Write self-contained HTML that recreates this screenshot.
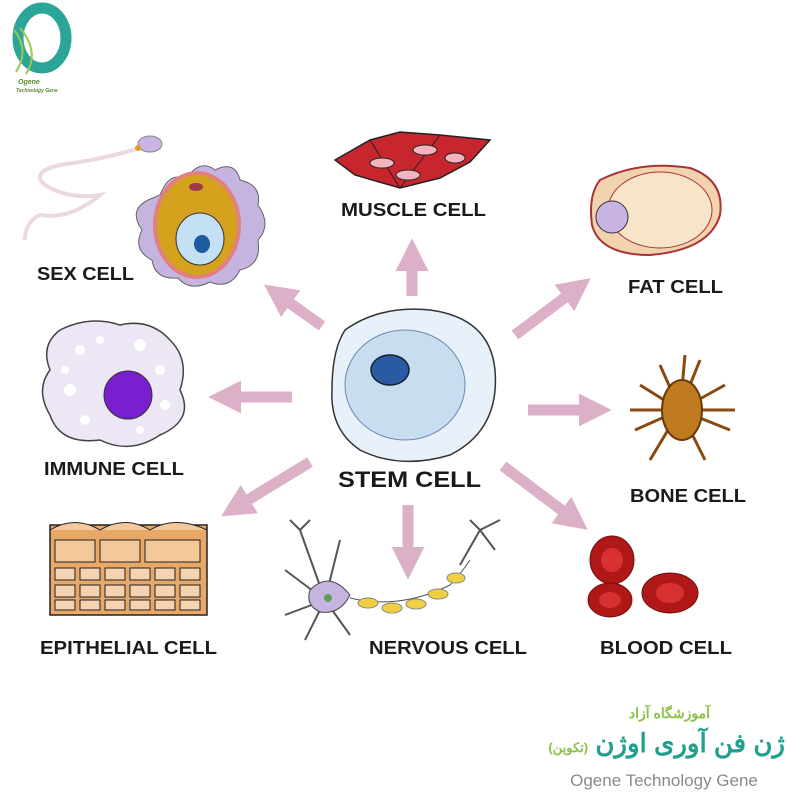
<!DOCTYPE html>
<html><head><meta charset="utf-8"><style>
html,body{margin:0;padding:0;background:#fff;}
svg{display:block}
text{font-family:"Liberation Sans",Arial,sans-serif;font-weight:bold;fill:#1a1a1a}
</style></head><body>
<svg width="800" height="800" viewBox="0 0 800 800" xmlns="http://www.w3.org/2000/svg">
<defs>
<marker id="ah" markerWidth="3" markerHeight="3" refX="1.2" refY="1.5" orient="auto">
<path d="M0,0 L3,1.5 L0,3 Z" fill="#dcb1c8"/></marker>
</defs>
<ellipse cx="42" cy="38" rx="24" ry="30" fill="none" stroke="#2aa597" stroke-width="11"/>
<path d="M14,30 Q30,50 16,72 M20,28 Q40,52 26,74" stroke="#9bc850" stroke-width="2" fill="none"/>
<text x="18" y="84" style="font-size:7px;font-style:italic;fill:#5a8a30">Ogene</text>
<text x="16" y="92" style="font-size:5px;font-style:italic;fill:#5a8a30">Technology Gene</text>

<g stroke="#dcb1c8" stroke-width="11" fill="none" marker-end="url(#ah)">
<line x1="412" y1="296" x2="412" y2="258"/>
<line x1="322" y1="326" x2="280" y2="296"/>
<line x1="292" y1="397" x2="228" y2="397"/>
<line x1="310" y1="462" x2="238" y2="506"/>
<line x1="408" y1="505" x2="408" y2="560"/>
<line x1="503" y1="466" x2="572" y2="518"/>
<line x1="528" y1="410" x2="592" y2="410"/>
<line x1="515" y1="335" x2="575" y2="290"/>
</g>

<path d="M345,330 Q380,305 430,310 Q490,318 495,370 Q500,430 450,455 Q400,470 360,450 Q330,430 332,390 Q332,350 345,330Z" fill="#e8f0fa" stroke="#333" stroke-width="1.5"/>
<ellipse cx="405" cy="385" rx="60" ry="55" fill="#c9ddf1" stroke="#6a8ab0" stroke-width="1"/>
<ellipse cx="390" cy="370" rx="19" ry="15" fill="#2a5aa2" stroke="#123" stroke-width="1.5"/>
<text x="338" y="487" textLength="143" lengthAdjust="spacingAndGlyphs" style="font-size:22px">STEM CELL</text>

<path d="M335,160 L370,140 L400,132 L440,135 L490,140 L470,162 L440,178 L400,188 L355,175 Z" fill="#c8262e" stroke="#222" stroke-width="1.5"/>
<path d="M370,140 L400,188 M440,135 L400,188" stroke="#222" stroke-width="1" fill="none"/>
<ellipse cx="382" cy="163" rx="12" ry="5" fill="#f2b5be" stroke="#222"/>
<ellipse cx="425" cy="150" rx="12" ry="5" fill="#f2b5be" stroke="#222"/>
<ellipse cx="408" cy="175" rx="12" ry="5" fill="#f2b5be" stroke="#222"/>
<ellipse cx="455" cy="158" rx="10" ry="5" fill="#f2b5be" stroke="#222"/>
<text x="341" y="216" textLength="145" lengthAdjust="spacingAndGlyphs" style="font-size:18px">MUSCLE CELL</text>

<path d="M160,195 Q170,170 185,180 Q200,158 215,170 Q235,160 240,180 Q262,185 258,205 Q272,225 258,240 Q262,265 240,270 Q230,290 210,282 Q190,292 178,278 Q155,280 152,260 Q132,250 142,230 Q128,210 148,200 Z" fill="#c6b4e0" stroke="#666" stroke-width="1"/>
<ellipse cx="197" cy="225" rx="42" ry="52" fill="#d4a21c" stroke="#e08080" stroke-width="4"/>
<ellipse cx="200" cy="239" rx="24" ry="26" fill="#c4e0f4" stroke="#333"/>
<ellipse cx="202" cy="244" rx="8" ry="9" fill="#1e5aa0"/>
<ellipse cx="196" cy="187" rx="7" ry="4" fill="#9a3a4a"/>
<path d="M140,148 Q100,160 60,165 Q30,172 45,185 Q70,200 100,195 Q70,220 40,215 Q25,222 25,240" stroke="#ecd8df" stroke-width="4" fill="none"/>
<ellipse cx="150" cy="144" rx="12" ry="8" fill="#c9b4e2" stroke="#888"/>
<circle cx="138" cy="148" r="3" fill="#e0a020"/>
<text x="37" y="280" textLength="97" lengthAdjust="spacingAndGlyphs" style="font-size:18px">SEX CELL</text>

<path d="M600,180 Q640,160 690,168 Q725,180 720,215 Q710,250 650,255 Q600,255 592,225 Q588,195 600,180Z" fill="#f2d3b0" stroke="#a33" stroke-width="2"/>
<ellipse cx="660" cy="210" rx="52" ry="38" fill="#f8e4c8" stroke="#a33" stroke-width="1"/>
<ellipse cx="612" cy="217" rx="16" ry="16" fill="#c8b4e2" stroke="#333"/>
<text x="628" y="293" textLength="95" lengthAdjust="spacingAndGlyphs" style="font-size:18px">FAT CELL</text>

<path d="M60,330 Q90,315 120,325 Q150,318 170,340 Q190,360 180,390 Q195,420 160,435 Q130,455 100,440 Q60,445 50,415 Q35,390 50,370 Q40,345 60,330Z" fill="#ede6f5" stroke="#444" stroke-width="1.5"/>
<g fill="#fff"><circle cx="80" cy="350" r="5"/><circle cx="100" cy="340" r="4"/><circle cx="140" cy="345" r="6"/><circle cx="160" cy="370" r="5"/><circle cx="70" cy="390" r="6"/><circle cx="85" cy="420" r="5"/><circle cx="165" cy="405" r="5"/><circle cx="140" cy="430" r="4"/><circle cx="65" cy="370" r="4"/></g>
<circle cx="128" cy="395" r="24" fill="#7a1fd0" stroke="#333"/>
<text x="44" y="475" textLength="140" lengthAdjust="spacingAndGlyphs" style="font-size:18px">IMMUNE CELL</text>

<g stroke="#8a4a10" stroke-width="3" fill="none">
<path d="M680,410 L660,365 M680,410 L700,360 M680,410 L640,385 M680,410 L725,385 M680,410 L635,430 M680,410 L730,430 M680,410 L650,460 M680,410 L705,460 M680,410 L685,355 M680,410 L630,410 M680,410 L735,410"/>
</g>
<ellipse cx="682" cy="410" rx="20" ry="30" fill="#c07a20" stroke="#6a3a08" stroke-width="2"/>
<text x="630" y="502" textLength="116" lengthAdjust="spacingAndGlyphs" style="font-size:18px">BONE CELL</text>

<rect x="50" y="525" width="157" height="90" fill="#e8a868" stroke="#222" stroke-width="1.5"/>
<path d="M50,530 Q75,515 100,530 Q125,515 150,530 Q175,515 207,530" fill="#f5c89a" stroke="#222"/>
<g fill="#f5c89a" stroke="#222"><rect x="55" y="540" width="40" height="22"/><rect x="100" y="540" width="40" height="22"/><rect x="145" y="540" width="55" height="22"/></g>
<g fill="#f5d3b0" stroke="#222">
<rect x="55" y="568" width="20" height="12"/><rect x="80" y="568" width="20" height="12"/><rect x="105" y="568" width="20" height="12"/><rect x="130" y="568" width="20" height="12"/><rect x="155" y="568" width="20" height="12"/><rect x="180" y="568" width="20" height="12"/>
<rect x="55" y="585" width="20" height="12"/><rect x="80" y="585" width="20" height="12"/><rect x="105" y="585" width="20" height="12"/><rect x="130" y="585" width="20" height="12"/><rect x="155" y="585" width="20" height="12"/><rect x="180" y="585" width="20" height="12"/>
<rect x="55" y="600" width="20" height="10"/><rect x="80" y="600" width="20" height="10"/><rect x="105" y="600" width="20" height="10"/><rect x="130" y="600" width="20" height="10"/><rect x="155" y="600" width="20" height="10"/><rect x="180" y="600" width="20" height="10"/></g>
<text x="40" y="654" textLength="177" lengthAdjust="spacingAndGlyphs" style="font-size:18px">EPITHELIAL CELL</text>

<g stroke="#555" stroke-width="2" fill="none">
<path d="M325,600 L300,530 M325,600 L285,570 M325,600 L285,615 M325,600 L305,640 M325,600 L340,540 M325,600 L350,635 M300,530 L290,520 M300,530 L310,520"/>
<path d="M460,565 L480,530 M480,530 L500,520 M480,530 L470,520 M480,530 L495,550"/>
</g>
<path d="M310,590 Q330,570 350,595 Q340,615 320,612 Q305,605 310,590Z" fill="#c6b4e0" stroke="#444"/>
<circle cx="328" cy="598" r="4" fill="#5aa050"/>
<path d="M350,598 Q400,610 450,585 Q460,575 470,560" stroke="#555" stroke-width="1" fill="none"/>
<g fill="#f0d040" stroke="#888"><ellipse cx="368" cy="603" rx="10" ry="5"/><ellipse cx="392" cy="608" rx="10" ry="5"/><ellipse cx="416" cy="604" rx="10" ry="5"/><ellipse cx="438" cy="594" rx="10" ry="5"/><ellipse cx="456" cy="578" rx="9" ry="5"/></g>
<text x="369" y="654" textLength="158" lengthAdjust="spacingAndGlyphs" style="font-size:18px">NERVOUS CELL</text>

<g fill="#b01818" stroke="#701010" stroke-width="1">
<ellipse cx="612" cy="560" rx="22" ry="24"/><ellipse cx="610" cy="600" rx="22" ry="17"/><ellipse cx="670" cy="593" rx="28" ry="20"/></g>
<g fill="#d83030"><ellipse cx="612" cy="560" rx="11" ry="12"/><ellipse cx="610" cy="600" rx="11" ry="8"/><ellipse cx="670" cy="593" rx="14" ry="10"/></g>
<text x="600" y="654" textLength="132" lengthAdjust="spacingAndGlyphs" style="font-size:18px">BLOOD CELL</text>

<text x="710" y="718" text-anchor="end" style="font-family:'Liberation Sans','Noto Sans CJK SC',sans-serif;font-size:14px;fill:#8cc04a">آموزشگاه آزاد</text>
<text x="785" y="752" text-anchor="end" style="font-family:'Liberation Sans','Noto Sans CJK SC',sans-serif;font-size:26px;fill:#22a08e">ژن فن آوری اوژن <tspan style="font-size:13px;fill:#8cc04a">(تکوین)</tspan></text>
<text x="664" y="786" text-anchor="middle" style="font-size:17px;font-weight:normal;fill:#8a8a8a">Ogene Technology Gene</text>
</svg>
</body></html>
